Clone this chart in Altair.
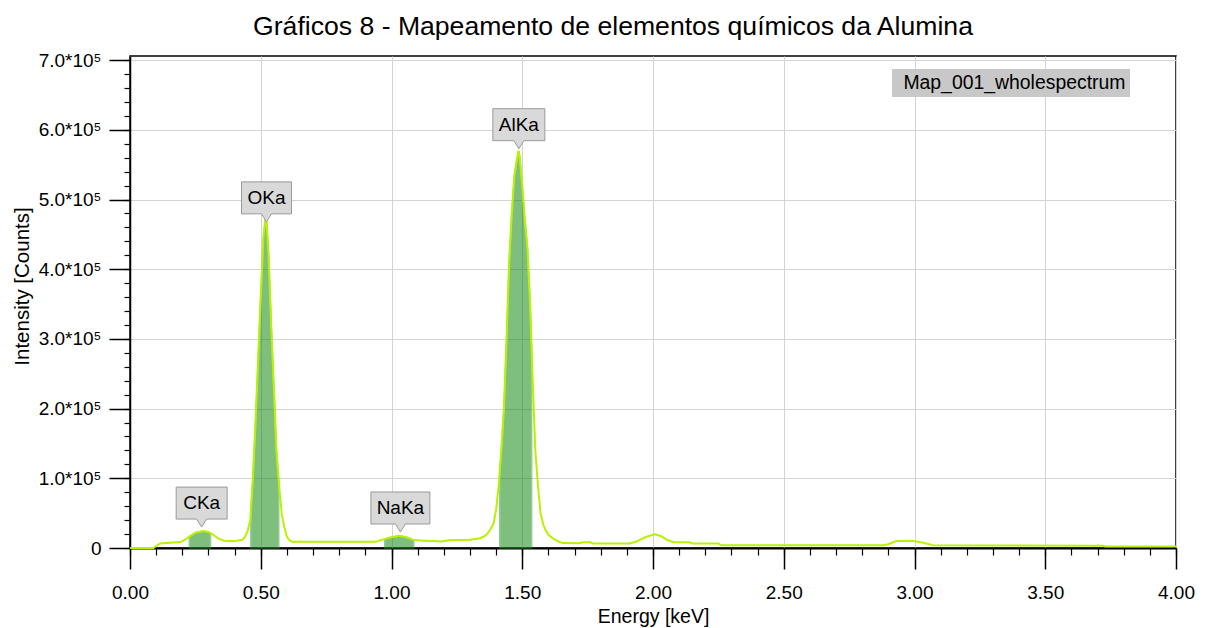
import altair as alt
import pandas as pd
import numpy as np

# ---------------- data ----------------
energy = [0.00, 0.089, 0.115, 0.19, 0.20, 0.23, 0.25, 0.28, 0.30, 0.32, 0.34, 0.36, 0.38, 0.41,
          0.43, 0.44, 0.45, 0.46, 0.47, 0.48, 0.49, 0.50, 0.51, 0.52, 0.53, 0.54, 0.55, 0.56,
          0.57, 0.58, 0.59, 0.60, 0.61, 0.62, 0.64, 0.94, 0.96, 0.98, 1.00, 1.03, 1.06, 1.08,
          1.10, 1.13, 1.16, 1.19, 1.22, 1.25, 1.30, 1.34, 1.36, 1.37, 1.38, 1.39, 1.40, 1.41,
          1.42, 1.43, 1.44, 1.45, 1.46, 1.47, 1.48, 1.486, 1.49, 1.50, 1.51, 1.52, 1.53, 1.54,
          1.55, 1.56, 1.57, 1.58, 1.59, 1.60, 1.61, 1.62, 1.64, 1.655, 1.72, 1.73, 1.76, 1.77,
          1.91, 1.935, 1.97, 2.005, 2.03, 2.055, 2.08, 2.14, 2.15, 2.25, 2.26, 2.88, 2.90, 2.93,
          2.99, 3.03, 3.07, 3.68, 3.69, 3.70, 3.72, 3.73, 4.00]
counts = [0, 0, 6500, 8500, 9500, 17000, 22000, 24500, 23000, 18500, 13000, 10500, 10000, 10500,
          12000, 16000, 25000, 40000, 100000, 180000, 270000, 360000, 445000, 480000, 420000,
          320000, 230000, 140000, 90000, 50000, 30000, 16000, 11000, 9000, 8800, 8800, 11500,
          13500, 15500, 17500, 15000, 12000, 11000, 10500, 10000, 9500, 11000, 11500, 12000,
          14000, 18000, 22000, 28000, 35000, 55000, 90000, 140000, 200000, 300000, 410000,
          480000, 535000, 558000, 570000, 562000, 520000, 470000, 430000, 350000, 240000,
          140000, 90000, 50000, 34000, 25000, 19000, 16000, 13000, 9000, 7000, 6800, 8200, 8200,
          6500, 6500, 9000, 15400, 19700, 17300, 11500, 8200, 8200, 6500, 6500, 3900, 3900, 5500,
          10000, 10500, 8000, 3900, 3300, 2800, 3500, 3300, 2000, 2000]

series_name = "Map_001_wholespectrum"

# element windows (shaded)
elements = ["CKa", "OKa", "NaKa", "AlKa"]
window_lo = [0.227, 0.462, 0.974, 1.414]
window_hi = [0.308, 0.569, 1.085, 1.536]

# label callout tips
label_energy = [0.274, 0.522, 1.034, 1.487]
label_counts = [30000, 468000, 23000, 573000]

x_major = [0.0, 0.5, 1.0, 1.5, 2.0, 2.5, 3.0, 3.5, 4.0]
x_minor = [round(i * 0.1, 1) for i in range(0, 41)]
y_major = [0, 100000, 200000, 300000, 400000, 500000, 600000, 700000]
y_minor = [i * 20000 for i in range(0, 36)]

title_text = "Gráficos 8 - Mapeamento de elementos químicos da Alumina"

# ---------------- styles ----------------
FONT = "Liberation Sans, Arial, sans-serif"
LINE_COLOR = "#b8f200"
FS = 19
box_w = {"CKa": 51, "OKa": 50, "NaKa": 59, "AlKa": 52}

W, H = 1046, 492

spec = pd.DataFrame({"E": energy, "I": counts, "series": series_name})

rows = []
for name, lo, hi in zip(elements, window_lo, window_hi):
    es = [lo] + [e for e in energy if lo < e < hi] + [hi]
    for e in es:
        rows.append({"E": e, "I": float(np.interp(e, energy, counts)), "el": name})
areas = pd.DataFrame(rows)

labels = pd.DataFrame({"E": label_energy, "I": label_counts, "el": elements})


def callout(w, h=32, p=8, u=40.0):
    hw = w / 2 / u
    top = -(p + h) / u
    bot = -p / u
    ph = 5 / u
    return (f"M{-hw:.4f},{top:.4f}L{hw:.4f},{top:.4f}L{hw:.4f},{bot:.4f}"
            f"L{ph:.4f},{bot:.4f}L0,0L{-ph:.4f},{bot:.4f}L{-hw:.4f},{bot:.4f}Z")


xscale = alt.Scale(domain=[0, 4], nice=False, zero=False)
yscale = alt.Scale(domain=[0, 706000], nice=False)

y_label_expr = ("datum.value == 0 ? '0' : format(datum.value / 100000, '.1f') + '*10\u2075'")

x_axis_major = alt.Axis(values=x_major, format=".2f", tickSize=21, tickWidth=1.5,
                        tickColor="black", domainColor="black", domainWidth=2,
                        labelFontSize=FS, labelFont=FONT, labelColor="black", labelPadding=14,
                        labelFlush=False,
                        grid=True, gridColor="#d4d4d4", gridWidth=1,
                        title="Energy [keV]", titleFontSize=19.5, titleFont=FONT,
                        titleFontWeight="normal", titleColor="black",
                        titleBaseline="alphabetic", titleY=74, orient="bottom")
y_axis_major = alt.Axis(values=y_major, labelExpr=y_label_expr, tickSize=21, tickWidth=1.5,
                        tickColor="black", domainColor="black", domainWidth=1.5,
                        labelFontSize=FS, labelFont=FONT, labelColor="black", labelPadding=8,
                        labelFlush=False,
                        grid=True, gridColor="#d4d4d4", gridWidth=1,
                        title="Intensity [Counts]", titleFontSize=20.5, titleFont=FONT,
                        titleFontWeight="normal", titleColor="black",
                        titleBaseline="alphabetic", titleX=-102, titleY=230, orient="left")

x_axis_minor = alt.Axis(values=x_minor, labels=False, tickSize=7, tickWidth=1.2,
                        tickColor="black", domain=False, grid=False, title=None, orient="bottom")
y_axis_minor = alt.Axis(values=y_minor, labels=False, tickSize=6, tickWidth=1.2,
                        tickColor="black", domain=False, grid=False, title=None, orient="left")

line = alt.Chart(spec).mark_line(strokeWidth=2, interpolate="linear").encode(
    x=alt.X("E:Q", scale=xscale, axis=x_axis_major),
    y=alt.Y("I:Q", scale=yscale, axis=y_axis_major),
    color=alt.Color("series:N",
                    scale=alt.Scale(domain=[series_name], range=[LINE_COLOR]),
                    legend=alt.Legend(title=None, orient="none", legendX=762, legendY=13,
                                      fillColor="#c8c8c8", padding=4, symbolSize=0,
                                      symbolStrokeWidth=0, symbolOpacity=0,
                                      labelOffset={"expr": "-12"},
                                      labelLimit=600,
                                      labelFontSize=19.4, labelFont=FONT, labelColor="black")),
)

minor = alt.Chart(spec).mark_point(opacity=0, size=1).encode(
    x=alt.X("E:Q", scale=xscale, axis=x_axis_minor),
    y=alt.Y("I:Q", scale=yscale, axis=y_axis_minor),
)

shade = alt.Chart(areas).mark_area(color="#008000", opacity=0.5, stroke="#2a9a2a",
                                   strokeWidth=1.5, strokeOpacity=1).encode(
    x=alt.X("E:Q", scale=xscale, axis=None),
    y=alt.Y("I:Q", scale=yscale, axis=None, stack=None),
    detail="el:N",
)

shape_range = [callout(box_w[n]) for n in elements]
boxes = alt.Chart(labels).mark_point(filled=True, fill="#d9d9d9", stroke="#9a9a9a",
                                     strokeWidth=1, opacity=1, size=6400).encode(
    x=alt.X("E:Q", scale=xscale, axis=None),
    y=alt.Y("I:Q", scale=yscale, axis=None),
    shape=alt.Shape("el:N", scale=alt.Scale(domain=elements, range=shape_range), legend=None),
)
texts = alt.Chart(labels).mark_text(fontSize=FS, font=FONT, color="black", dy=-24,
                                    baseline="middle", align="center").encode(
    x=alt.X("E:Q", scale=xscale, axis=None),
    y=alt.Y("I:Q", scale=yscale, axis=None),
    text="el:N",
)

chart = alt.layer(shade, line, minor, boxes, texts).resolve_axis(
    x="independent", y="independent"
).properties(
    width=W, height=H,
    title=alt.TitleParams(title_text, fontSize=26.6, font=FONT, fontWeight="normal",
                          color="black", anchor="middle", dx=-40, offset=11),
    autosize=alt.AutoSizeParams(type="none"),
    padding={"left": 130, "top": 56, "right": 29, "bottom": 80},
).configure_view(stroke="black", strokeWidth=1.5)

chart.save("out.html", embed_options={"renderer": "svg", "actions": False})
